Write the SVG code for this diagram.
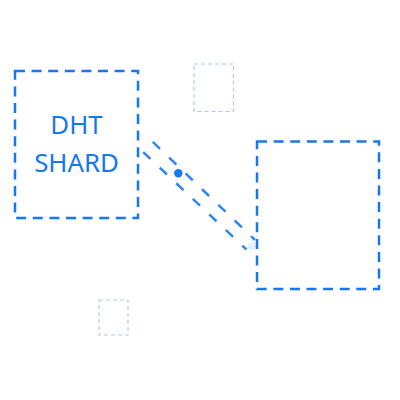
<svg xmlns="http://www.w3.org/2000/svg" width="400" height="400" viewBox="0 0 400 400">
<style>
.node{fill:none;stroke:#1677f2;stroke-width:2.5;stroke-dasharray:10 6.6}
.ghost{fill:none;stroke:#a9cbf7;stroke-width:1.2;stroke-dasharray:4 3}
.link{fill:none;stroke:#2f86f0;stroke-width:2.5;stroke-dasharray:10 12.7}
.label{font-family:"Noto Sans","Open Sans",sans-serif;font-size:25.8px;fill:#1677f2;text-anchor:middle}
</style>
<rect width="400" height="400" fill="#ffffff"/>
<g id="connectors">
<line class="link" x1="152.8" y1="141.9" x2="255" y2="240"/>
<line class="link" x1="143.2" y1="152.1" x2="246.5" y2="249.5"/>
<circle cx="178.3" cy="173.3" r="4.2" fill="#1677f2"/>
<circle cx="252" cy="246" r="4.2" fill="#e6effc"/>
</g>
<g id="shard">
<rect class="node" x="15" y="71" width="123" height="147"/>
<text class="label" x="76.5" y="133.5">DHT</text>
<text class="label" x="76.5" y="171.5">SHARD</text>
</g>
<g id="peer">
<rect class="node" x="257" y="141.5" width="122" height="147.5"/>
</g>
<g id="ghost-top">
<rect class="ghost" x="194" y="64" width="39.5" height="47.5"/>
</g>
<g id="ghost-bottom">
<rect class="ghost" x="99" y="300" width="29" height="35"/>
</g>
</svg>
